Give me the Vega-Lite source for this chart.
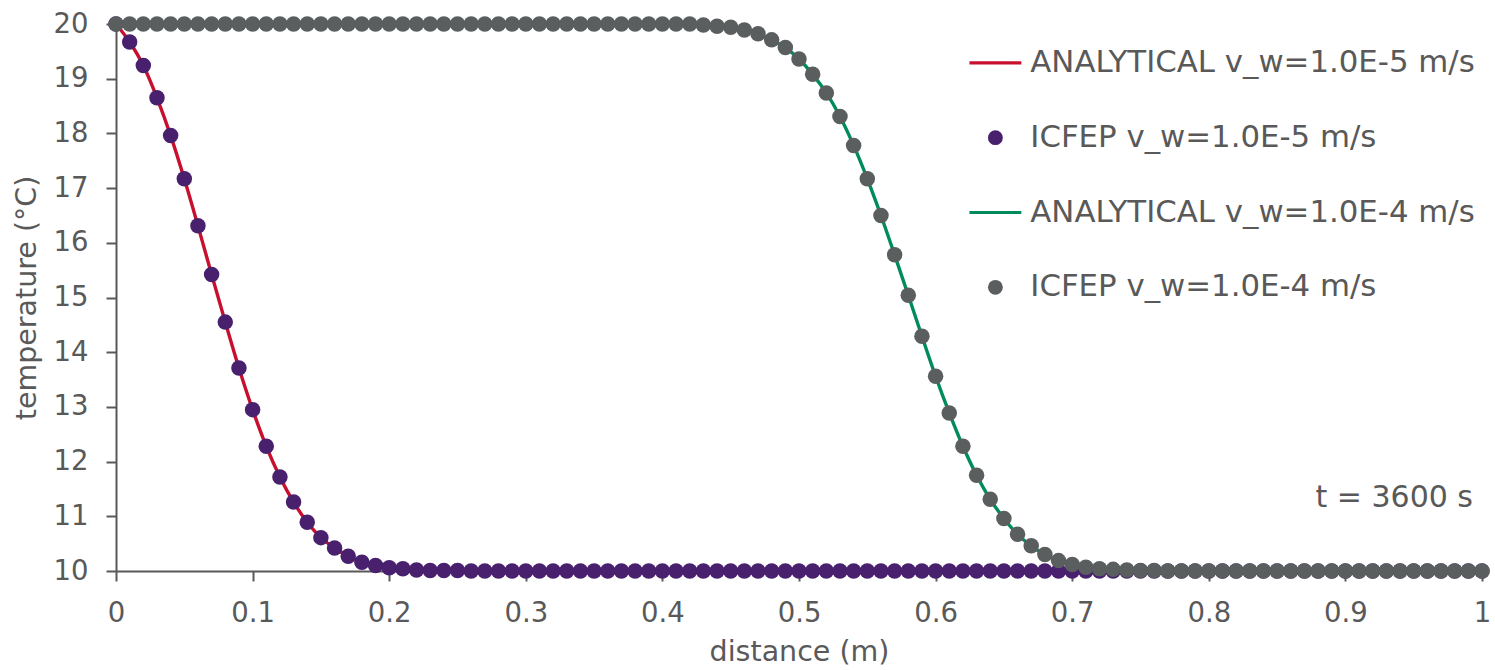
{
  "$schema": "https://vega.github.io/schema/vega-lite/v6.json",
  "width": 1366,
  "height": 547,
  "autosize": {"type": "none"},
  "padding": {"left": 116, "top": 24, "right": 13, "bottom": 99},
  "background": "white",
  "config": {
    "view": {"stroke": null},
    "axis": {
      "grid": false,
      "domainColor": "#595959",
      "domainWidth": 2,
      "tickColor": "#595959",
      "tickWidth": 2,
      "tickSize": 10,
      "labelColor": "#595959",
      "titleColor": "#595959",
      "labelFont": "DejaVu Sans",
      "titleFont": "DejaVu Sans",
      "labelFontSize": 27.5,
      "titleFontSize": 28.5,
      "titleFontWeight": "normal",
      "labelPadding": 18,
      "labelFlush": false
    }
  },
  "data": {
    "values": [
      {"d": 0, "A5": 20, "I5": 20, "A4": 20, "I4": 20},
      {"d": 0.01, "A5": 19.67, "I5": 19.67, "A4": 20, "I4": 20},
      {"d": 0.02, "A5": 19.24, "I5": 19.24, "A4": 20, "I4": 20},
      {"d": 0.03, "A5": 18.65, "I5": 18.65, "A4": 20, "I4": 20},
      {"d": 0.04, "A5": 17.96, "I5": 17.96, "A4": 20, "I4": 20},
      {"d": 0.05, "A5": 17.17, "I5": 17.17, "A4": 20, "I4": 20},
      {"d": 0.06, "A5": 16.31, "I5": 16.31, "A4": 20, "I4": 20},
      {"d": 0.07, "A5": 15.42, "I5": 15.42, "A4": 20, "I4": 20},
      {"d": 0.08, "A5": 14.55, "I5": 14.55, "A4": 20, "I4": 20},
      {"d": 0.09, "A5": 13.71, "I5": 13.71, "A4": 20, "I4": 20},
      {"d": 0.1, "A5": 12.95, "I5": 12.95, "A4": 20, "I4": 20},
      {"d": 0.11, "A5": 12.28, "I5": 12.28, "A4": 20, "I4": 20},
      {"d": 0.12, "A5": 11.72, "I5": 11.72, "A4": 20, "I4": 20},
      {"d": 0.13, "A5": 11.26, "I5": 11.26, "A4": 20, "I4": 20},
      {"d": 0.14, "A5": 10.89, "I5": 10.89, "A4": 20, "I4": 20},
      {"d": 0.15, "A5": 10.61, "I5": 10.61, "A4": 20, "I4": 20},
      {"d": 0.16, "A5": 10.42, "I5": 10.42, "A4": 20, "I4": 20},
      {"d": 0.17, "A5": 10.27, "I5": 10.27, "A4": 20, "I4": 20},
      {"d": 0.18, "A5": 10.16, "I5": 10.16, "A4": 20, "I4": 20},
      {"d": 0.19, "A5": 10.1, "I5": 10.1, "A4": 20, "I4": 20},
      {"d": 0.2, "A5": 10.06, "I5": 10.06, "A4": 20, "I4": 20},
      {"d": 0.21, "A5": 10.04, "I5": 10.04, "A4": 20, "I4": 20},
      {"d": 0.22, "A5": 10.02, "I5": 10.02, "A4": 20, "I4": 20},
      {"d": 0.23, "A5": 10.01, "I5": 10.01, "A4": 20, "I4": 20},
      {"d": 0.24, "A5": 10.01, "I5": 10.01, "A4": 20, "I4": 20},
      {"d": 0.25, "A5": 10.01, "I5": 10.01, "A4": 20, "I4": 20},
      {"d": 0.26, "A5": 10, "I5": 10, "A4": 20, "I4": 20},
      {"d": 0.27, "A5": 10, "I5": 10, "A4": 20, "I4": 20},
      {"d": 0.28, "A5": 10, "I5": 10, "A4": 20, "I4": 20},
      {"d": 0.29, "A5": 10, "I5": 10, "A4": 20, "I4": 20},
      {"d": 0.3, "A5": 10, "I5": 10, "A4": 20, "I4": 20},
      {"d": 0.31, "A5": 10, "I5": 10, "A4": 20, "I4": 20},
      {"d": 0.32, "A5": 10, "I5": 10, "A4": 20, "I4": 20},
      {"d": 0.33, "A5": 10, "I5": 10, "A4": 20, "I4": 20},
      {"d": 0.34, "A5": 10, "I5": 10, "A4": 20, "I4": 20},
      {"d": 0.35, "A5": 10, "I5": 10, "A4": 20, "I4": 20},
      {"d": 0.36, "A5": 10, "I5": 10, "A4": 20, "I4": 20},
      {"d": 0.37, "A5": 10, "I5": 10, "A4": 20, "I4": 20},
      {"d": 0.38, "A5": 10, "I5": 10, "A4": 20, "I4": 20},
      {"d": 0.39, "A5": 10, "I5": 10, "A4": 20, "I4": 20},
      {"d": 0.4, "A5": 10, "I5": 10, "A4": 20, "I4": 20},
      {"d": 0.41, "A5": 10, "I5": 10, "A4": 20, "I4": 20},
      {"d": 0.42, "A5": 10, "I5": 10, "A4": 20, "I4": 20},
      {"d": 0.43, "A5": 10, "I5": 10, "A4": 19.98, "I4": 19.98},
      {"d": 0.44, "A5": 10, "I5": 10, "A4": 19.96, "I4": 19.96},
      {"d": 0.45, "A5": 10, "I5": 10, "A4": 19.94, "I4": 19.94},
      {"d": 0.46, "A5": 10, "I5": 10, "A4": 19.89, "I4": 19.89},
      {"d": 0.47, "A5": 10, "I5": 10, "A4": 19.82, "I4": 19.82},
      {"d": 0.48, "A5": 10, "I5": 10, "A4": 19.71, "I4": 19.71},
      {"d": 0.49, "A5": 10, "I5": 10, "A4": 19.57, "I4": 19.57},
      {"d": 0.5, "A5": 10, "I5": 10, "A4": 19.36, "I4": 19.36},
      {"d": 0.51, "A5": 10, "I5": 10, "A4": 19.08, "I4": 19.08},
      {"d": 0.52, "A5": 10, "I5": 10, "A4": 18.74, "I4": 18.74},
      {"d": 0.53, "A5": 10, "I5": 10, "A4": 18.31, "I4": 18.31},
      {"d": 0.54, "A5": 10, "I5": 10, "A4": 17.78, "I4": 17.78},
      {"d": 0.55, "A5": 10, "I5": 10, "A4": 17.17, "I4": 17.17},
      {"d": 0.56, "A5": 10, "I5": 10, "A4": 16.5, "I4": 16.5},
      {"d": 0.57, "A5": 10, "I5": 10, "A4": 15.78, "I4": 15.78},
      {"d": 0.58, "A5": 10, "I5": 10, "A4": 15.04, "I4": 15.04},
      {"d": 0.59, "A5": 10, "I5": 10, "A4": 14.29, "I4": 14.29},
      {"d": 0.6, "A5": 10, "I5": 10, "A4": 13.56, "I4": 13.56},
      {"d": 0.61, "A5": 10, "I5": 10, "A4": 12.89, "I4": 12.89},
      {"d": 0.62, "A5": 10, "I5": 10, "A4": 12.28, "I4": 12.28},
      {"d": 0.63, "A5": 10, "I5": 10, "A4": 11.75, "I4": 11.75},
      {"d": 0.64, "A5": 10, "I5": 10, "A4": 11.31, "I4": 11.31},
      {"d": 0.65, "A5": 10, "I5": 10, "A4": 10.96, "I4": 10.96},
      {"d": 0.66, "A5": 10, "I5": 10, "A4": 10.67, "I4": 10.67},
      {"d": 0.67, "A5": 10, "I5": 10, "A4": 10.46, "I4": 10.46},
      {"d": 0.68, "A5": 10, "I5": 10, "A4": 10.3, "I4": 10.3},
      {"d": 0.69, "A5": 10, "I5": 10, "A4": 10.19, "I4": 10.19},
      {"d": 0.7, "A5": 10, "I5": 10, "A4": 10.12, "I4": 10.12},
      {"d": 0.71, "A5": 10, "I5": 10, "A4": 10.07, "I4": 10.07},
      {"d": 0.72, "A5": 10, "I5": 10, "A4": 10.04, "I4": 10.04},
      {"d": 0.73, "A5": 10, "I5": 10, "A4": 10.03, "I4": 10.03},
      {"d": 0.74, "A5": 10, "I5": 10, "A4": 10.02, "I4": 10.02},
      {"d": 0.75, "A5": 10, "I5": 10, "A4": 10.01, "I4": 10.01},
      {"d": 0.76, "A5": 10, "I5": 10, "A4": 10.01, "I4": 10.01},
      {"d": 0.77, "A5": 10, "I5": 10, "A4": 10, "I4": 10},
      {"d": 0.78, "A5": 10, "I5": 10, "A4": 10, "I4": 10},
      {"d": 0.79, "A5": 10, "I5": 10, "A4": 10, "I4": 10},
      {"d": 0.8, "A5": 10, "I5": 10, "A4": 10, "I4": 10},
      {"d": 0.81, "A5": 10, "I5": 10, "A4": 10, "I4": 10},
      {"d": 0.82, "A5": 10, "I5": 10, "A4": 10, "I4": 10},
      {"d": 0.83, "A5": 10, "I5": 10, "A4": 10, "I4": 10},
      {"d": 0.84, "A5": 10, "I5": 10, "A4": 10, "I4": 10},
      {"d": 0.85, "A5": 10, "I5": 10, "A4": 10, "I4": 10},
      {"d": 0.86, "A5": 10, "I5": 10, "A4": 10, "I4": 10},
      {"d": 0.87, "A5": 10, "I5": 10, "A4": 10, "I4": 10},
      {"d": 0.88, "A5": 10, "I5": 10, "A4": 10, "I4": 10},
      {"d": 0.89, "A5": 10, "I5": 10, "A4": 10, "I4": 10},
      {"d": 0.9, "A5": 10, "I5": 10, "A4": 10, "I4": 10},
      {"d": 0.91, "A5": 10, "I5": 10, "A4": 10, "I4": 10},
      {"d": 0.92, "A5": 10, "I5": 10, "A4": 10, "I4": 10},
      {"d": 0.93, "A5": 10, "I5": 10, "A4": 10, "I4": 10},
      {"d": 0.94, "A5": 10, "I5": 10, "A4": 10, "I4": 10},
      {"d": 0.95, "A5": 10, "I5": 10, "A4": 10, "I4": 10},
      {"d": 0.96, "A5": 10, "I5": 10, "A4": 10, "I4": 10},
      {"d": 0.97, "A5": 10, "I5": 10, "A4": 10, "I4": 10},
      {"d": 0.98, "A5": 10, "I5": 10, "A4": 10, "I4": 10},
      {"d": 0.99, "A5": 10, "I5": 10, "A4": 10, "I4": 10},
      {"d": 1, "A5": 10, "I5": 10, "A4": 10, "I4": 10}
    ]
  },
  "encoding": {
    "x": {
      "field": "d",
      "type": "quantitative",
      "scale": {"domain": [0, 1], "nice": false, "zero": false},
      "axis": {
        "orient": "bottom",
        "title": "distance (m)",
        "values": [0, 0.1, 0.2, 0.3, 0.4, 0.5, 0.6, 0.7, 0.8, 0.9, 1],
        "format": "~g",
        "labelFlush": false,
        "titlePadding": 11
      }
    },
    "y": {
      "field": "T",
      "type": "quantitative",
      "scale": {"domain": [10, 20], "nice": false, "zero": false},
      "axis": {
        "orient": "left",
        "title": "temperature (°C)",
        "values": [10, 11, 12, 13, 14, 15, 16, 17, 18, 19, 20],
        "labelFlush": false,
        "titlePadding": 12
      }
    }
  },
  "layer": [
    {
      "transform": [{"fold": ["A5"], "as": ["series", "T"]}],
      "mark": {"type": "line", "strokeWidth": 3.4, "interpolate": "monotone", "clip": false},
      "encoding": {
        "stroke": {
          "field": "series",
          "type": "nominal",
          "scale": {"domain": ["A5", "A4"], "range": ["#C8102E", "#008C5A"]},
          "legend": null
        }
      }
    },
    {
      "transform": [{"fold": ["A4"], "as": ["series", "T"]}],
      "mark": {"type": "line", "strokeWidth": 3.4, "interpolate": "monotone", "clip": false},
      "encoding": {
        "stroke": {"field": "series", "type": "nominal", "legend": null}
      }
    },
    {
      "transform": [{"fold": ["I5"], "as": ["series", "T"]}],
      "mark": {"type": "point", "filled": true, "opacity": 1, "size": 240, "clip": false},
      "encoding": {
        "color": {
          "field": "series",
          "type": "nominal",
          "scale": {
            "domain": ["A5", "I5", "A4", "I4"],
            "range": ["#C8102E", "#48206E", "#008C5A", "#5A5E5E"]
          },
          "legend": {
            "orient": "none",
            "legendX": 864,
            "legendY": 23.5,
            "title": null,
            "padding": 0,
            "symbolSize": 220,
            "symbolStrokeWidth": 0,
            "symbolOpacity": 1,
            "labelFontSize": 30.8,
            "labelFont": "DejaVu Sans",
            "labelColor": "#595959",
            "labelOffset": 19.5,
            "labelLimit": 700,
            "rowPadding": 42.8,
            "labelExpr": "datum.value === 'A5' ? 'ANALYTICAL v_w=1.0E-5 m/s' : datum.value === 'I5' ? 'ICFEP v_w=1.0E-5 m/s' : datum.value === 'A4' ? 'ANALYTICAL v_w=1.0E-4 m/s' : 'ICFEP v_w=1.0E-4 m/s'"
          }
        },
        "shape": {
          "field": "series",
          "type": "nominal",
          "scale": {
            "domain": ["A5", "I5", "A4", "I4"],
            "range": ["M-3.5,-0.216H3.5V0.216H-3.5Z", "circle", "M-3.5,-0.216H3.5V0.216H-3.5Z", "circle"]
          },
          "legend": {
            "orient": "none",
            "legendX": 864,
            "legendY": 23.5,
            "title": null,
            "padding": 0,
            "symbolSize": 220,
            "symbolStrokeWidth": 0,
            "symbolOpacity": 1,
            "labelFontSize": 30.8,
            "labelFont": "DejaVu Sans",
            "labelColor": "#595959",
            "labelOffset": 19.5,
            "labelLimit": 700,
            "rowPadding": 42.8,
            "labelExpr": "datum.value === 'A5' ? 'ANALYTICAL v_w=1.0E-5 m/s' : datum.value === 'I5' ? 'ICFEP v_w=1.0E-5 m/s' : datum.value === 'A4' ? 'ANALYTICAL v_w=1.0E-4 m/s' : 'ICFEP v_w=1.0E-4 m/s'"
          }
        }
      }
    },
    {
      "transform": [{"fold": ["I4"], "as": ["series", "T"]}],
      "mark": {"type": "point", "filled": true, "opacity": 1, "size": 240, "clip": false},
      "encoding": {
        "color": {"field": "series", "type": "nominal"},
        "shape": {"field": "series", "type": "nominal"}
      }
    },
    {
      "data": {"values": [{"d": 1, "T": 11.33, "label": "t = 3600 s"}]},
      "mark": {"type": "text", "align": "right", "baseline": "middle", "dx": -9, "fontSize": 30, "font": "DejaVu Sans", "color": "#595959"},
      "encoding": {
        "text": {"field": "label"}
      }
    }
  ]
}
